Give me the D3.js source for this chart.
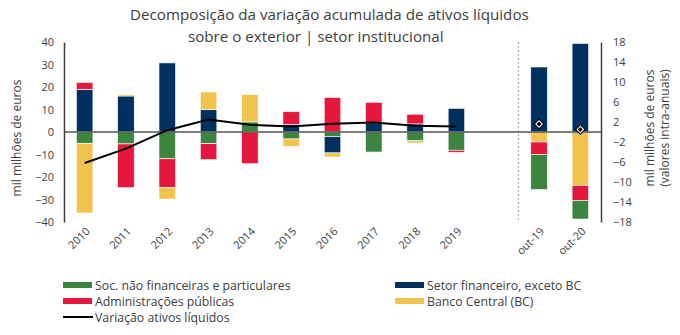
<!DOCTYPE html>
<html>
<head>
<meta charset="utf-8">
<script src="https://cdn.jsdelivr.net/npm/d3@7"></script>
<style>
  body { margin: 0; background: #fff; }
  text { font-family: "Open Sans", sans-serif; fill: #404040; }
</style>
</head>
<body>
<div id="chart"></div>
<script>
// categories ("" is the empty gap slot)
const categories = ["2010","2011","2012","2013","2014","2015","2016","2017","2018","2019","","out-19","out-20"];
const annual = ["2010","2011","2012","2013","2014","2015","2016","2017","2018","2019"];
const intra = ["out-19","out-20"];

// series values, mil milhões de euros
const socNaoFin  = [-5.0, -5.3, -11.9, -5.2, 4.5, -3.1, -2.1, -8.9, -3.9, -8.1, null, -7.0, -3.7];
const setorFin   = [19.0, 16.0, 30.7, 9.9, 0, 3.3, -7.2, 4.0, 3.6, 10.5, null, 13.0, 17.7];
const admPub     = [3.0, -19.4, -12.8, -7.1, -14.1, 5.7, 15.3, 9.2, 4.3, -0.9, null, -2.5, -3.0];
const bancoCent  = [-31.0, 0.6, -5.1, 7.9, 12.1, -3.3, -1.8, 0, -1.0, 0, null, -2.0, -10.7];
const variacao   = [-13.8, -7.4, 0.8, 5.5, 3.2, 2.5, 3.7, 4.2, 2.8, 2.4];
const variacaoIntra = [1.6, 0.5];

const leftTicks = [40, 30, 20, 10, 0, -10, -20, -30, -40];
const rightTicks = [18, 14, 10, 6, 2, -2, -6, -10, -14, -18];

const series = [
  {key: "soc", name: "Soc. não financeiras e particulares", values: socNaoFin, color: "#3b853f"},
  {key: "fin", name: "Setor financeiro, exceto BC", values: setorFin, color: "#00305f"},
  {key: "ap",  name: "Administrações públicas", values: admPub, color: "#e5173d"},
  {key: "bc",  name: "Banco Central (BC)", values: bancoCent, color: "#f1c54d"}
];

const width = 680, height = 335;
const svg = d3.select("#chart").append("svg").attr("width", width).attr("height", height);

const x = d3.scaleBand().domain(categories).range([64, 601]).paddingInner(0.6).paddingOuter(0.3);
const yL = d3.scaleLinear().domain([-40, 40]).range([222, 42]);
const yR = d3.scaleLinear().domain([-18, 18]).range([222, 42]);

// title, each line fitted to the width it has in the original
function titleLine(str, x0, x1, yb) {
  const t = svg.append("text").attr("x", x0).attr("y", yb).style("font-size", "14px").text(str);
  const w = t.node().getComputedTextLength();
  t.style("font-size", (14 * (x1 - x0) / w) + "px");
}
titleLine("Decomposição da variação acumulada de ativos líquidos", 130, 529, 20);
titleLine("sobre o exterior | setor institucional", 188, 444, 42);

// stacked bars (intra-annual bars stack their negatives in reverse order)
const segs = [];
categories.forEach((c, i) => {
  if (c === "") return;
  const isIntra = intra.includes(c);
  const y = isIntra ? yR : yL;
  let pos = 0, neg = 0;
  series.forEach(s => {
    const v = s.values[i];
    if (v > 0) { segs.push({c, y, y0: pos, y1: pos + v, color: s.color}); pos += v; }
  });
  const negOrder = isIntra ? series.slice().reverse() : series;
  negOrder.forEach(s => {
    const v = s.values[i];
    if (v < 0) { segs.push({c, y, y0: neg + v, y1: neg, color: s.color}); neg += v; }
  });
});

svg.append("g").selectAll("rect").data(segs).enter().append("rect")
  .attr("x", d => x(d.c))
  .attr("width", x.bandwidth())
  .attr("y", d => d.y(d.y1))
  .attr("height", d => d.y(d.y0) - d.y(d.y1))
  .attr("fill", d => d.color)
  .attr("stroke", "#fff")
  .attr("stroke-width", 0.6);

// separator between annual and intra-annual values
const sepX = x("out-19") - x.step() * x.paddingInner() / 2;
svg.append("line").attr("x1", sepX).attr("x2", sepX).attr("y1", 42).attr("y2", 222)
  .attr("stroke", "#999").attr("stroke-width", 1).attr("stroke-dasharray", "2,2");

// zero line
svg.append("line").attr("x1", 64).attr("x2", 601).attr("y1", yL(0)).attr("y2", yL(0))
  .attr("stroke", "#555").attr("stroke-width", 1.6);

// line for annual variation
const line = d3.line().x((d, i) => x(annual[i]) + x.bandwidth() / 2).y(d => yL(d));
svg.append("path").datum(variacao).attr("d", line)
  .attr("fill", "none").attr("stroke", "#000").attr("stroke-width", 2);

// diamonds for intra-annual variation
const diam = svg.append("g").selectAll("g").data(variacaoIntra).enter().append("g")
  .attr("transform", (d, i) => `translate(${x(intra[i]) + x.bandwidth() / 2},${yR(d)})`);
diam.append("path").attr("d", d3.symbol(d3.symbolSquare, 60)).attr("transform", "rotate(45)")
  .attr("fill", "#000");
diam.append("path").attr("d", d3.symbol(d3.symbolSquare, 32)).attr("transform", "rotate(45)")
  .attr("fill", "#fff");
diam.append("path").attr("d", d3.symbol(d3.symbolSquare, 12)).attr("transform", "rotate(45)")
  .attr("fill", "#000");

// left axis
const axL = d3.axisLeft(yL).tickValues(leftTicks).tickSize(0).tickPadding(10);
const gL = svg.append("g").attr("transform", "translate(64,0)").call(axL);
gL.select(".domain").attr("stroke", "#404040").attr("stroke-width", 1.5);
gL.selectAll("text").style("font-size", "11px").style("font-family", "Open Sans, sans-serif").attr("fill", "#404040");

// right axis
const axR = d3.axisRight(yR).tickValues(rightTicks).tickSize(0).tickPadding(12);
const gR = svg.append("g").attr("transform", "translate(601,0)").call(axR);
gR.select(".domain").attr("stroke", "#404040").attr("stroke-width", 1.5);
gR.selectAll("text").style("font-size", "11px").style("font-family", "Open Sans, sans-serif").attr("fill", "#404040");

// x labels rotated
svg.append("g").selectAll("text").data(categories.filter(c => c !== "")).enter().append("text")
  .attr("transform", d => `translate(${x(d) + x.bandwidth() / 2 + 6},${232}) rotate(-45)`)
  .attr("text-anchor", "end")
  .style("font-size", "11px")
  .text(d => d);

// axis titles
svg.append("text").attr("transform", "translate(21,138) rotate(-90)").attr("text-anchor", "middle")
  .style("font-size", "12px").text("mil milhões de euros");
svg.append("text").attr("transform", "translate(654,128) rotate(-90)").attr("text-anchor", "middle")
  .style("font-size", "12px").text("mil milhões de euros");
svg.append("text").attr("transform", "translate(669,128) rotate(-90)").attr("text-anchor", "middle")
  .style("font-size", "12px").text("(valores intra-anuais)");

// legend
const legendItems = [
  {name: series[0].name, color: series[0].color, x: 63, y: 285, type: "rect"},
  {name: series[1].name, color: series[1].color, x: 395, y: 285, type: "rect"},
  {name: series[2].name, color: series[2].color, x: 63, y: 301, type: "rect"},
  {name: series[3].name, color: series[3].color, x: 395, y: 301, type: "rect"},
  {name: "Variação ativos líquidos", color: "#000", x: 63, y: 317, type: "line"}
];
const lg = svg.append("g").selectAll("g").data(legendItems).enter().append("g")
  .attr("transform", d => `translate(${d.x},${d.y})`);
lg.filter(d => d.type === "rect").append("rect")
  .attr("x", 0).attr("y", -3).attr("width", 29).attr("height", 6).attr("fill", d => d.color);
lg.filter(d => d.type === "line").append("line")
  .attr("x1", 0).attr("x2", 30).attr("y1", 0).attr("y2", 0).attr("stroke", "#000").attr("stroke-width", 2);
lg.append("text").attr("x", 32).attr("y", 4.5).style("font-size", "12.3px").text(d => d.name);
</script>
</body>
</html>
